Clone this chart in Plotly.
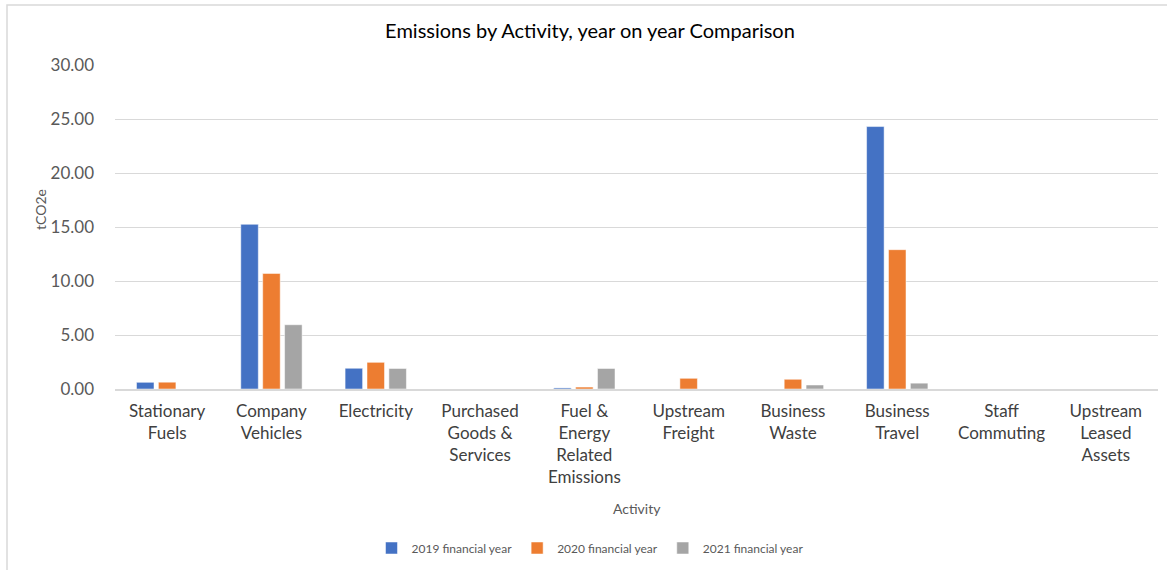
import plotly.graph_objects as go

categories = ["Stationary<br>Fuels", "Company<br>Vehicles", "Electricity",
              "Purchased<br>Goods &<br>Services", "Fuel &<br>Energy<br>Related<br>Emissions",
              "Upstream<br>Freight", "Business<br>Waste", "Business<br>Travel",
              "Staff<br>Commuting", "Upstream<br>Leased<br>Assets"]
fy2019 = [0.62, 15.25, 1.92, 0.0, 0.10, 0.0, 0.0, 24.3, 0.0, 0.0]
fy2020 = [0.63, 10.7, 2.47, 0.0, 0.18, 0.99, 0.90, 12.9, 0.0, 0.0]
fy2021 = [0.0, 5.95, 1.90, 0.0, 1.90, 0.0, 0.37, 0.54, 0.0, 0.0]
series_names = ["2019 financial year", "2020 financial year", "2021 financial year"]
colors = ["#4472C4", "#ED7D31", "#A5A5A5"]
y_ticks = [0, 5, 10, 15, 20, 25, 30]

FONT = "Lato, 'Open Sans', sans-serif"
W, H = 1167, 570
L, R, T, B = 115, 9, 65, 181

fig = go.Figure()
for name, vals, col in zip(series_names, [fy2019, fy2020, fy2021], colors):
    fig.add_trace(go.Bar(x=categories, y=vals, name=name, marker_color=col,
                         marker_line_color="white", marker_line_width=0.5))

pw = W - L - R
ph = H - T - B
fig.update_layout(
    width=W, height=H,
    margin=dict(l=L, r=R, t=T, b=B, pad=0),
    paper_bgcolor="white", plot_bgcolor="white",
    barmode="group", bargap=0.37, bargroupgap=0.2,
    font=dict(family=FONT, color="#595959"),
    title=dict(text="Emissions by Activity, year on year Comparison",
               x=590 / W, xref="container", xanchor="center",
               y=1 - 31 / H, yref="container", yanchor="middle",
               font=dict(size=20, color="#000000", family=FONT)),
    xaxis=dict(showgrid=False, showline=True, linecolor="#D9D9D9", linewidth=1.5,
               ticks="", tickfont=dict(size=17, color="#404040"),
               ticklabelstandoff=6, automargin=False),
    yaxis=dict(range=[0, 30], tickvals=y_ticks,
               ticktext=[f"{v:.2f}" for v in y_ticks],
               tickfont=dict(size=17, color="#595959"),
               showgrid=True, gridcolor="#D9D9D9", gridwidth=1,
               zeroline=False, showline=False, ticks="", ticklabelstandoff=20,
               automargin=False),
    legend=dict(orientation="h", xref="container", yref="container",
                x=590 / W, xanchor="center", y=1 - 548 / H, yanchor="middle",
                font=dict(size=12, color="#595959"), itemwidth=30,
                traceorder="normal"),
    showlegend=True,
)

fig.add_annotation(text="Activity", xref="paper", yref="paper",
                   x=0.5, y=-(509 - 389) / ph, xanchor="center", yanchor="middle",
                   showarrow=False, font=dict(size=14, color="#595959", family=FONT))
fig.add_annotation(text="tCO2e", xref="paper", yref="paper",
                   x=(40 - L) / pw, y=(389 - 210) / ph, xanchor="center", yanchor="middle",
                   textangle=-90, showarrow=False,
                   font=dict(size=14, color="#595959", family=FONT))

# chart border
fig.add_shape(type="rect", xref="paper", yref="paper",
              x0=(7 - L) / pw, x1=(1175 - L) / pw,
              y0=(389 - 580) / ph, y1=(389 - 5) / ph,
              line=dict(color="#D9D9D9", width=1.5), fillcolor="rgba(0,0,0,0)",
              layer="below")

fig.write_html("out.html")
